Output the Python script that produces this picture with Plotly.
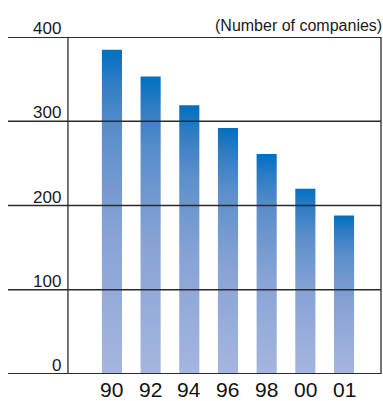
import plotly.graph_objects as go

# Number of companies by year
years = ["90", "92", "94", "96", "98", "00", "01"]
companies = [385, 353, 319, 292, 261, 220, 188]
y_ticks = [0, 100, 200, 300, 400]

BAR_HALF = 0.26
FRAME_X = -1.137
LINE_COLOR = "#2b2b2b"
FONT = "Liberation Sans Narrow, Arial Narrow, Liberation Sans, sans-serif"
GRADIENT = [[0.0, "#a5b6df"], [0.45, "#86a2d4"], [0.75, "#5a8ecb"],
            [0.9, "#2f7cc4"], [1.0, "#0070c0"]]

fig = go.Figure()

for i, (yr, v) in enumerate(zip(years, companies)):
    fig.add_trace(go.Scatter(
        x=[i - BAR_HALF, i + BAR_HALF, i + BAR_HALF, i - BAR_HALF, i - BAR_HALF],
        y=[0, 0, v, v, 0],
        mode="lines", line=dict(width=0), fill="toself",
        fillgradient=dict(type="vertical", colorscale=GRADIENT, start=0, stop=v),
        hoverinfo="text", text=f"{yr}: {v}", showlegend=False,
    ))

# horizontal rules at each tick value
for t in y_ticks:
    fig.add_shape(type="line", xref="paper", yref="y", x0=0, x1=1, y0=t, y1=t,
                  line=dict(color=LINE_COLOR, width=2 if t in (0, 400) else 1.3),
                  layer="above")
    fig.add_annotation(x=FRAME_X, y=t, xref="x", yref="y", text=str(t),
                       showarrow=False, xanchor="right", yanchor="bottom",
                       xshift=-5, yshift=-3,
                       font=dict(family=FONT, size=17, color="#1a1a1a"))

# frame verticals
fig.add_shape(type="line", xref="x", yref="y", x0=FRAME_X, x1=FRAME_X, y0=0, y1=400,
              line=dict(color=LINE_COLOR, width=1.3), layer="above")
fig.add_shape(type="line", xref="paper", yref="y", x0=1, x1=1, y0=0, y1=400,
              line=dict(color=LINE_COLOR, width=1.3), layer="above")

# year labels
for i, yr in enumerate(years):
    fig.add_annotation(x=i, y=0, xref="x", yref="y", text=yr, showarrow=False,
                       xanchor="center", yanchor="top", yshift=-2,
                       font=dict(family=FONT, size=21, color="#111111"))

fig.add_annotation(x=1, y=400, xref="paper", yref="y", text="(Number of companies)",
                   showarrow=False, xanchor="right", yanchor="bottom",
                   xshift=3, yshift=1,
                   font=dict(family=FONT, size=16, color="#1a1a1a"))

fig.update_layout(
    width=383, height=401,
    margin=dict(l=8, r=2, t=37, b=27),
    paper_bgcolor="white", plot_bgcolor="white",
    xaxis=dict(range=[-2.687, 6.956], visible=False, fixedrange=True),
    yaxis=dict(range=[0, 400], visible=False, fixedrange=True),
    showlegend=False,
)

fig.write_html("out.html")
